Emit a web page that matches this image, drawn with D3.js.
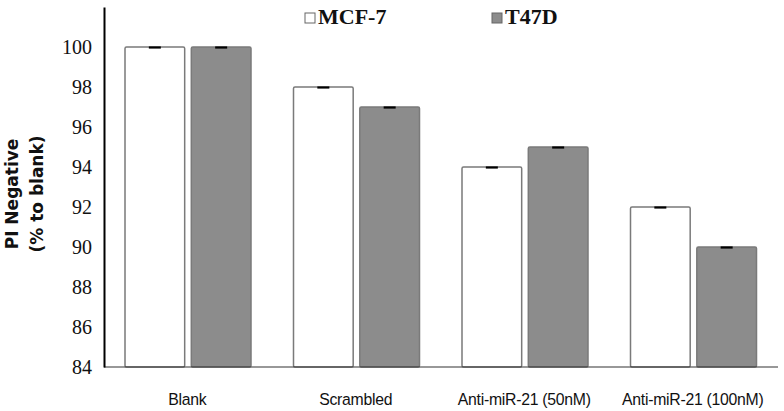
<!DOCTYPE html>
<html>
<head>
<meta charset="utf-8">
<script src="https://cdn.jsdelivr.net/npm/d3@7"></script>
<style>
  body { margin: 0; background: #fff; }
  svg { display: block; }
</style>
</head>
<body>
<svg id="chart" width="784" height="411"></svg>
<script>
// data
var categories = [ "Blank", "Scrambled", "Anti-miR-21 (50nM)", "Anti-miR-21 (100nM)" ];
var series = [ "MCF-7", "T47D" ];
var mcf7 = [ 100, 98, 94, 92 ];
var t47d = [ 100, 97, 95, 90 ];
var mcf7Err = [ 0.05, 0.05, 0.05, 0.05 ];
var t47dErr = [ 0.05, 0.05, 0.05, 0.07 ];
var yTicks = [ 84, 86, 88, 90, 92, 94, 96, 98, 100 ];

var fills = { "MCF-7": "#ffffff", "T47D": "#8c8c8c" };

var svg = d3.select( "#chart" );
var plotL = 104, plotR = 778, plotT = 7, plotB = 367;

var x0 = d3.scaleBand().domain( categories ).range( [ plotL, plotR ] ).paddingInner( 0 ).paddingOuter( 0 );
var x1 = d3.scaleBand().domain( series ).range( [ 21, 147 ] ).paddingInner( 0.1 );
var y = d3.scaleLinear().domain( [ 84, 102 ] ).range( [ plotB, plotT ] );

var rows = categories.map( function( c, i ) {
    return { cat: c, vals: [
        { s: "MCF-7", v: mcf7[i], e: mcf7Err[i] },
        { s: "T47D", v: t47d[i], e: t47dErr[i] }
    ] };
});

var groups = svg.selectAll( "g.grp" ).data( rows ).enter()
    .append( "g" )
    .attr( "class", "grp" )
    .attr( "transform", function( d ) { return "translate(" + x0( d.cat ) + ",0)"; } );

groups.selectAll( "rect" ).data( function( d ) { return d.vals; } ).enter()
    .append( "rect" )
    .attr( "x", function( d ) { return x1( d.s ); } )
    .attr( "y", function( d ) { return y( d.v ); } )
    .attr( "width", x1.bandwidth() )
    .attr( "height", function( d ) { return y( 84 ) - y( d.v ); } )
    .attr( "rx", 1.5 ).attr( "ry", 1.5 )
    .style( "fill", function( d ) { return fills[ d.s ]; } )
    .style( "stroke", "#7a7a7a" )
    .style( "stroke-width", 1.5 );

// error caps
groups.selectAll( "line.err" ).data( function( d ) { return d.vals; } ).enter()
    .append( "line" )
    .attr( "class", "err" )
    .attr( "x1", function( d ) { return x1( d.s ) + x1.bandwidth() / 2 - 6; } )
    .attr( "x2", function( d ) { return x1( d.s ) + x1.bandwidth() / 2 + 6; } )
    .attr( "y1", function( d ) { return y( d.v ) + 0.5; } )
    .attr( "y2", function( d ) { return y( d.v ) + 0.5; } )
    .style( "stroke", "#000" )
    .style( "stroke-width", 2.2 );

// x axis baseline
svg.append( "line" )
    .attr( "x1", plotL ).attr( "x2", plotR )
    .attr( "y1", y( 84 ) ).attr( "y2", y( 84 ) )
    .style( "stroke", "#333" ).style( "stroke-width", 1.2 );

// y axis
var yAxis = d3.axisLeft( y ).tickValues( yTicks ).tickSize( 0 ).tickPadding( 12 );
var ya = svg.append( "g" ).attr( "transform", "translate(" + plotL + ",0)" ).call( yAxis );
ya.select( ".domain" ).style( "stroke", "#000" ).style( "stroke-width", 2 );
ya.selectAll( "text" )
    .style( "font-family", "'Liberation Serif', 'DejaVu Serif', serif" )
    .style( "font-size", "20px" )
    .style( "fill", "#111" );

// category labels (tight look)
svg.selectAll( "text.cat" ).data( categories ).enter()
    .append( "text" )
    .attr( "class", "cat" )
    .attr( "transform", function( d ) {
        return "translate(" + ( x0( d ) + x0.bandwidth() / 2 - 1 ) + ",405) scale(0.93,1)";
    })
    .text( function( d ) { return d; } )
    .style( "font-family", "'Liberation Sans', Arial, sans-serif" )
    .style( "font-size", "17px" )
    .style( "letter-spacing", "-0.3px" )
    .style( "text-anchor", "middle" )
    .style( "fill", "#111" );

// y title
var yt = svg.append( "text" )
    .attr( "transform", "translate(18,194) rotate(-90)" )
    .style( "font-family", "'DejaVu Sans', sans-serif" )
    .style( "font-weight", "bold" )
    .style( "font-size", "17px" )
    .style( "text-anchor", "middle" )
    .style( "fill", "#111" );
yt.append( "tspan" ).attr( "x", 0 ).attr( "dy", 0 ).text( "PI Negative" );
yt.append( "tspan" ).attr( "x", 0 ).attr( "dy", 25 ).text( "(% to blank)" );

// legend
var legX = [ 305, 492 ];
var leg = svg.selectAll( "g.leg" ).data( series ).enter()
    .append( "g" )
    .attr( "class", "leg" )
    .attr( "transform", function( d, i ) { return "translate(" + legX[i] + ",13)"; } );
leg.append( "rect" )
    .attr( "width", 10 ).attr( "height", 10 )
    .style( "fill", function( d ) { return fills[ d ]; } )
    .style( "stroke", "#666" ).style( "stroke-width", 1 );
leg.append( "text" )
    .attr( "x", 13 ).attr( "y", 11 )
    .text( function( d ) { return d; } )
    .style( "font-family", "'Liberation Serif', 'DejaVu Serif', serif" )
    .style( "font-weight", "bold" )
    .style( "font-size", "22px" )
    .style( "fill", "#111" );
</script>
</body>
</html>
